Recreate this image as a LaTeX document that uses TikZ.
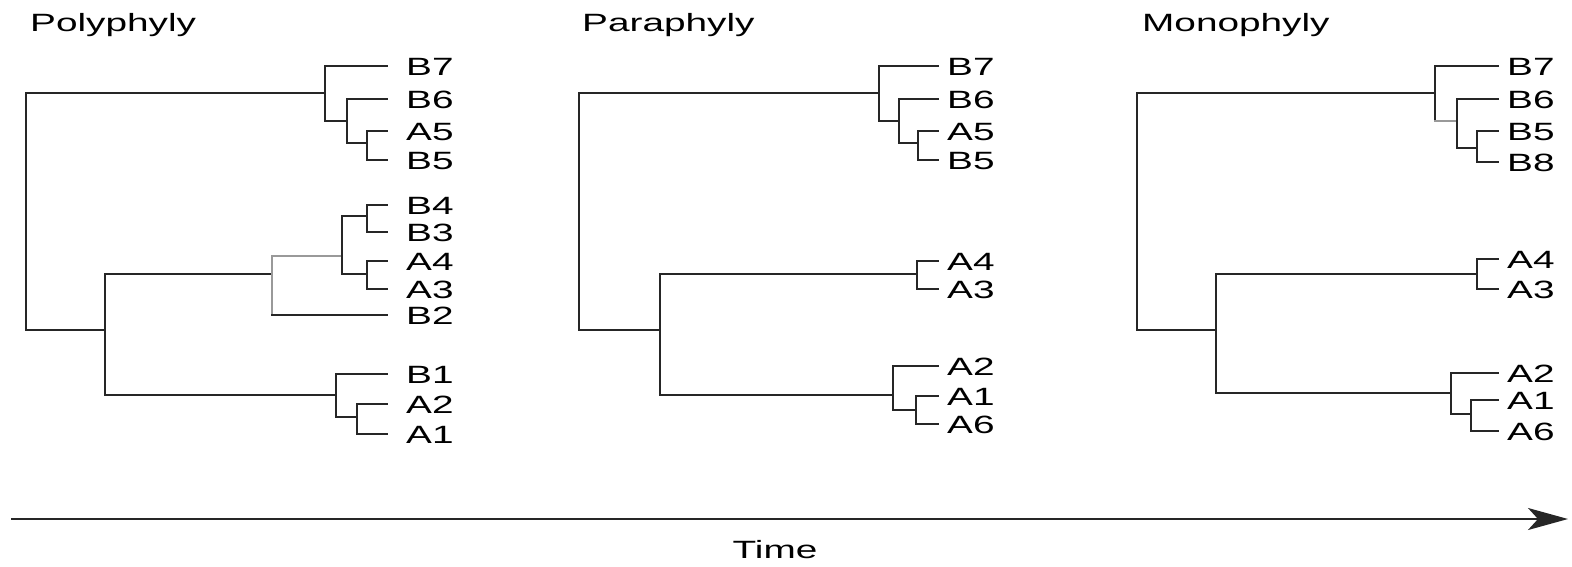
\documentclass[tikz,border=0pt]{standalone}
\usepackage{fontspec}
\usepackage{graphicx}
\setmainfont{Liberation Sans}
\usetikzlibrary{arrows.meta}
\newcommand\hstretch[1]{\scalebox{1.55}[1]{#1}}
\newcommand\mkleaf[5]{%
  \coordinate (#1) at (#2,#4);
  \node[lab] (#1t) at (#3,#4+9) {\hstretch{#5}};
}
\tikzset{
  lab/.style={anchor=base west, inner sep=0pt, font=\fontsize{25}{30}\selectfont},
  ttl/.style={anchor=base west, inner sep=0pt, font=\fontsize{25}{30}\selectfont},
  br/.style={line width=1.8pt, black!85, line cap=rect},
  gbr/.style={line width=1.8pt, black!40, line cap=rect},
}
\begin{document}
\begin{tikzpicture}[x=1pt,y=-1pt]
\useasboundingbox (0,0) rectangle (1572,566);
% titles
\node[ttl] (t1) at (30,31) {\hstretch{Polyphyly}};
\node[ttl] (t2) at (582,31) {\hstretch{Paraphyly}};
\node[ttl] (t3) at (1142,31) {\hstretch{Monophyly}};

% ---------- Polyphyly ----------
\coordinate (P0) at (26,330);
\coordinate (P1) at (325,93);
\coordinate (P2) at (347,121);
\coordinate (P3) at (367,143);
\coordinate (P5) at (105,330);
\coordinate (P6) at (272,274);
\coordinate (P7) at (342,256);
\coordinate (P8a) at (367,216);
\coordinate (P8b) at (367,274);
\coordinate (P9) at (336,395);
\coordinate (P10) at (357,417);
\mkleaf{pB7}{387}{406}{66}{B7}
\mkleaf{pB6}{387}{406}{99}{B6}
\mkleaf{pA5}{387}{406}{131}{A5}
\mkleaf{pB5}{387}{406}{160}{B5}
\mkleaf{pB4}{387}{406}{205}{B4}
\mkleaf{pB3}{387}{406}{232}{B3}
\mkleaf{pA4}{387}{406}{261}{A4}
\mkleaf{pA3}{387}{406}{289}{A3}
\mkleaf{pB2}{387}{406}{315}{B2}
\mkleaf{pB1}{387}{406}{374}{B1}
\mkleaf{pA2}{387}{406}{404}{A2}
\mkleaf{pA1}{387}{406}{434}{A1}
\draw[br] (P0) |- (P1);
\draw[br] (P0) |- (P5);
\draw[br] (P1) |- (pB7); \draw[br] (P1) |- (P2);
\draw[br] (P2) |- (pB6); \draw[br] (P2) |- (P3);
\draw[br] (P3) |- (pA5); \draw[br] (P3) |- (pB5);
\draw[br] (P5) |- (P6); \draw[br] (P5) |- (P9);
\draw[gbr] (P6) |- (P7);
\draw[gbr] (P6) -- (P6 |- pB2);
\draw[br] (P6 |- pB2) -- (pB2);
\draw[br] (P7) |- (P8a); \draw[br] (P7) |- (P8b);
\draw[br] (P8a) |- (pB4); \draw[br] (P8a) |- (pB3);
\draw[br] (P8b) |- (pA4); \draw[br] (P8b) |- (pA3);
\draw[br] (P9) |- (pB1); \draw[br] (P9) |- (P10);
\draw[br] (P10) |- (pA2); \draw[br] (P10) |- (pA1);

% ---------- Paraphyly ----------
\coordinate (Q0) at (579,330);
\coordinate (Q1) at (879,93);
\coordinate (Q2) at (899,121);
\coordinate (Q3) at (918,143);
\coordinate (Q4) at (660,330);
\coordinate (Q5) at (917,274);
\coordinate (Q6) at (893,395);
\coordinate (Q7) at (916,410);
\mkleaf{qB7}{938}{947}{66}{B7}
\mkleaf{qB6}{938}{947}{99}{B6}
\mkleaf{qA5}{938}{947}{131}{A5}
\mkleaf{qB5}{938}{947}{160}{B5}
\mkleaf{qA4}{938}{947}{261}{A4}
\mkleaf{qA3}{938}{947}{289}{A3}
\mkleaf{qA2}{938}{947}{366}{A2}
\mkleaf{qA1}{938}{947}{396}{A1}
\mkleaf{qA6}{938}{947}{424}{A6}
\draw[br] (Q0) |- (Q1); \draw[br] (Q0) |- (Q4);
\draw[br] (Q1) |- (qB7); \draw[br] (Q1) |- (Q2);
\draw[br] (Q2) |- (qB6); \draw[br] (Q2) |- (Q3);
\draw[br] (Q3) |- (qA5); \draw[br] (Q3) |- (qB5);
\draw[br] (Q4) |- (Q5); \draw[br] (Q4) |- (Q6);
\draw[br] (Q5) |- (qA4); \draw[br] (Q5) |- (qA3);
\draw[br] (Q6) |- (qA2); \draw[br] (Q6) |- (Q7);
\draw[br] (Q7) |- (qA1); \draw[br] (Q7) |- (qA6);

% ---------- Monophyly ----------
\coordinate (R0) at (1137,330);
\coordinate (R1) at (1435,93);
\coordinate (R2) at (1457,121);
\coordinate (R3) at (1477,148);
\coordinate (R4) at (1216,330);
\coordinate (R5) at (1477,274);
\coordinate (R6) at (1451,393);
\coordinate (R7) at (1471,414);
\mkleaf{rB7}{1498}{1507}{66}{B7}
\mkleaf{rB6}{1498}{1507}{99}{B6}
\mkleaf{rB5}{1498}{1507}{131}{B5}
\mkleaf{rB8}{1498}{1507}{162}{B8}
\mkleaf{rA4}{1498}{1507}{259}{A4}
\mkleaf{rA3}{1498}{1507}{289}{A3}
\mkleaf{rA2}{1498}{1507}{373}{A2}
\mkleaf{rA1}{1498}{1507}{400}{A1}
\mkleaf{rA6}{1498}{1507}{431}{A6}
\draw[br] (R0) |- (R1); \draw[br] (R0) |- (R4);
\draw[br] (R1) |- (rB7);
\draw[br] (R1) -- (R1 |- R2);
\draw[gbr] (R1 |- R2) -- (R2);
\draw[br] (R2) |- (rB6); \draw[br] (R2) |- (R3);
\draw[br] (R3) |- (rB5); \draw[br] (R3) |- (rB8);
\draw[br] (R4) |- (R5); \draw[br] (R4) |- (R6);
\draw[br] (R5) |- (rA4); \draw[br] (R5) |- (rA3);
\draw[br] (R6) |- (rA2); \draw[br] (R6) |- (R7);
\draw[br] (R7) |- (rA1); \draw[br] (R7) |- (rA6);

% ---------- Time axis ----------
\coordinate (ts) at (11,519);
\coordinate (te) at (1568,519);
\draw[line width=2pt, black!85, -{Stealth[length=40pt,width=22pt,inset=10pt]}] (ts) -- (te);
\node[lab, anchor=base] (time) at (775,558) {\hstretch{Time}};
\end{tikzpicture}
\end{document}
